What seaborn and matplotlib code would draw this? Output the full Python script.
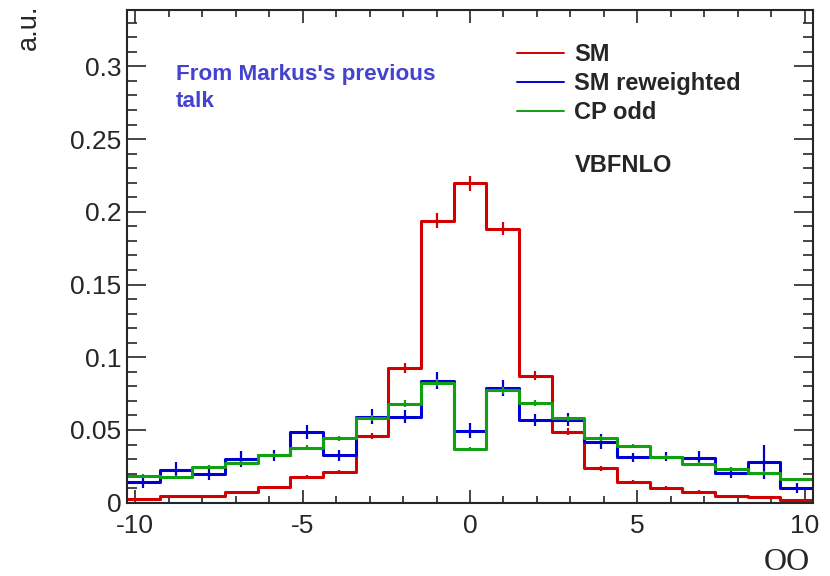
import numpy as np
import pandas as pd
import matplotlib
matplotlib.use("Agg")
import matplotlib.pyplot as plt
from matplotlib.lines import Line2D
from matplotlib.ticker import MultipleLocator
import seaborn as sns

# binning of the OO histogram (21 bins)
x_lo, x_hi, n_bins = -10.25, 10.25, 21

# bin contents (a.u.), left to right
sm = [0.0023, 0.0045, 0.0045, 0.0070, 0.0105, 0.0177, 0.0210, 0.0460, 0.0925, 0.1940, 0.2195,
      0.1885, 0.0873, 0.0489, 0.0237, 0.0145, 0.0103, 0.0076, 0.0046, 0.0039, 0.0019]
sm_rw = [0.0145, 0.0228, 0.0198, 0.0300, 0.0325, 0.0485, 0.0325, 0.0592, 0.0592, 0.0840, 0.0496,
         0.0788, 0.0570, 0.0570, 0.0420, 0.0312, 0.0317, 0.0306, 0.0207, 0.0278, 0.0100]
cp_odd = [0.0185, 0.0178, 0.0245, 0.0276, 0.0328, 0.0378, 0.0443, 0.0583, 0.0680, 0.0825, 0.0370,
          0.0772, 0.0685, 0.0580, 0.0443, 0.0390, 0.0317, 0.0267, 0.0230, 0.0202, 0.0161]

# statistical errors
sm_err = [0.0008, 0.001, 0.001, 0.001, 0.001, 0.0015, 0.0015, 0.0022, 0.0033, 0.005, 0.005,
          0.0047, 0.003, 0.0025, 0.0018, 0.0013, 0.001, 0.001, 0.0008, 0.0008, 0.0006]
sm_rw_err = [0.0045, 0.005, 0.0045, 0.0055, 0.004, 0.005, 0.004, 0.0054, 0.0042, 0.0058, 0.0052,
             0.0057, 0.0042, 0.0046, 0.005, 0.0032, 0.003, 0.005, 0.0035, 0.0118, 0.0035]
cp_odd_err = [0.0012, 0.0013, 0.0013, 0.0014, 0.0015, 0.0016, 0.0016, 0.002, 0.0023, 0.0023, 0.0015,
              0.0022, 0.002, 0.0018, 0.0016, 0.0015, 0.0014, 0.0013, 0.0013, 0.0013, 0.0012]

series_labels = ["SM", "SM reweighted", "CP odd"]
xtick_vals = [-10, -5, 0, 5, 10]
xtick_labels = ["-10", "-5", "0", "5", "10"]
ytick_vals = [0, 0.05, 0.1, 0.15, 0.2, 0.25, 0.3]
ytick_labels = ["0", "0.05", "0.1", "0.15", "0.2", "0.25", "0.3"]

red, blue, green = "#d20000", "#0000d4", "#10a010"

sns.set_style("ticks")
plt.rcParams["font.family"] = ["Liberation Sans", "DejaVu Sans"]

fig = plt.figure(figsize=(8.3, 5.76), dpi=100)
ax = fig.add_axes([0.153, 0.1273, 0.8265, 0.8559])

edges = np.linspace(x_lo, x_hi, n_bins + 1)
centers = 0.5 * (edges[:-1] + edges[1:])

hists = [(sm, sm_err, red), (sm_rw, sm_rw_err, blue), (cp_odd, cp_odd_err, green)]
for vals, errs, col in hists:
    df = pd.DataFrame({"OO": centers, "w": vals})
    sns.histplot(data=df, x="OO", weights="w", bins=edges.tolist(), element="step", fill=False,
                 color=col, linewidth=2.2, ax=ax)
    ax.errorbar(centers, vals, yerr=errs, fmt="none", ecolor=col, elinewidth=1.6, capsize=0)

ax.set_xlim(x_lo, x_hi)
ax.set_ylim(0, 0.339)
ax.set_xlabel("")
ax.set_ylabel("")
ax.set_xticks(xtick_vals, labels=xtick_labels)
ax.set_yticks(ytick_vals, labels=ytick_labels)
ax.xaxis.set_minor_locator(MultipleLocator(1))
ax.yaxis.set_minor_locator(MultipleLocator(0.01))
ax.tick_params(which="both", direction="in", top=True, right=True, width=1.2, labelsize=19)
ax.tick_params(axis="x", which="major", length=9.5, pad=8.5)
ax.tick_params(axis="x", which="minor", length=4.7)
ax.tick_params(axis="y", which="major", length=13.7, pad=4)
ax.tick_params(axis="y", which="minor", length=7.2)
for sp in ax.spines.values():
    sp.set_linewidth(1.5)
    sp.set_visible(True)

# axis titles, ROOT style
fig.text(29 / 830, 1 - 4 / 576, "a.u.", rotation=90, ha="center", va="top", fontsize=19.5)
fig.text(810 / 830, 1 - 563 / 576, "OO", ha="right", va="center", fontsize=23,
         family=["Liberation Serif", "DejaVu Serif"])

handles = [Line2D([], [], color=c, lw=1.4) for c in (red, blue, green)]
ax.legend(handles, series_labels, loc="upper left", bbox_to_anchor=(517 / 830, 1 - 43 / 576),
          bbox_transform=fig.transFigure, frameon=False, borderpad=0, borderaxespad=0,
          handlelength=2.0, handletextpad=0.42, labelspacing=0.25,
          prop={"weight": "bold", "size": 17})
fig.text(575 / 830, 1 - 166 / 576, "VBFNLO", ha="left", va="center", fontsize=17, weight="bold")

note_col = "#4343d0"
fig.text(176 / 830, 1 - 80 / 576, "From Markus's previous", ha="left", va="baseline",
         fontsize=16.2, weight="bold", color=note_col)
fig.text(176 / 830, 1 - 107 / 576, "talk", ha="left", va="baseline",
         fontsize=16.2, weight="bold", color=note_col)

fig.savefig("out.png", dpi=100)
